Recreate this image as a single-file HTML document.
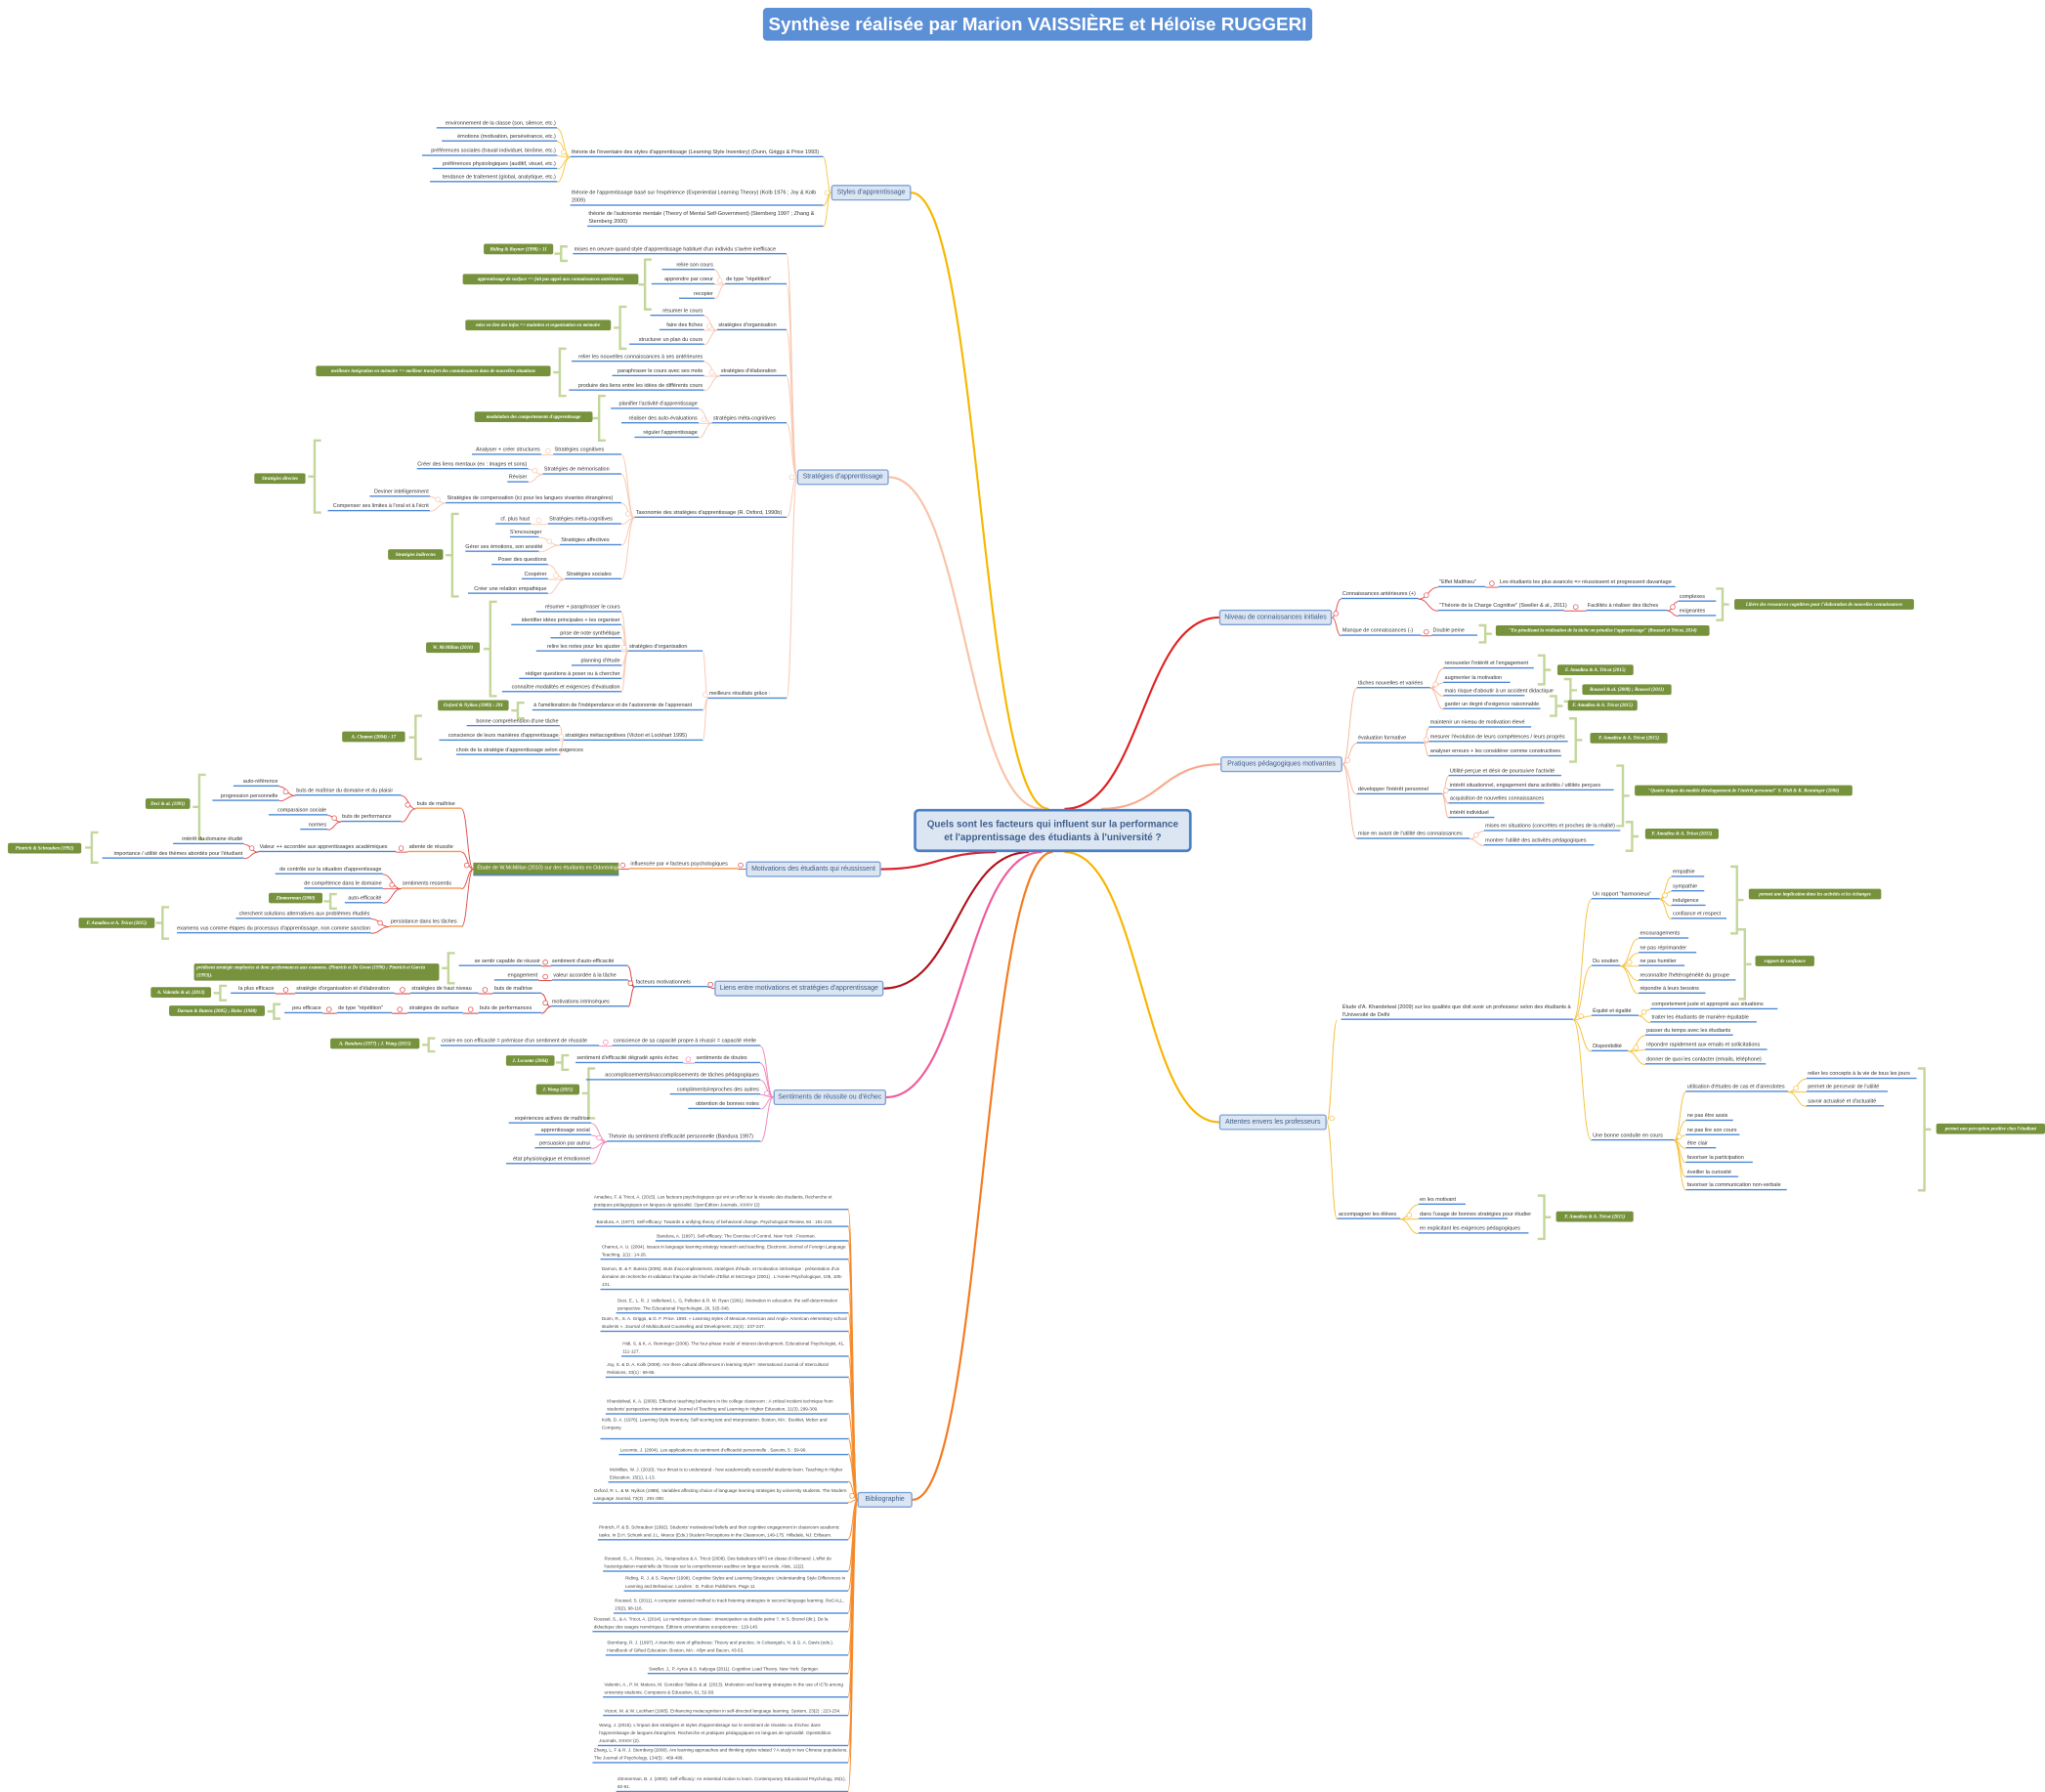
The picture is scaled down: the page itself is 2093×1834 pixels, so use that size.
<!DOCTYPE html>
<html><head><meta charset="utf-8">
<style>
html,body{margin:0;padding:0;background:#fff;width:2093px;height:1833px;overflow:hidden}
#w{position:absolute;left:0;top:0;width:1560px;height:1366px;transform:scale(1.3417);transform-origin:0 0;font-family:"Liberation Sans",sans-serif;color:#333}
#w div{position:absolute;box-sizing:border-box}
.l,.r{height:7px;line-height:6.5px;font-size:4.1px;white-space:nowrap;border-bottom:1.2px solid #4a86d4;color:#333}
.l{text-align:right;padding-right:1px}
.r{text-align:left;padding-left:1px}
.r2{font-size:4.1px;line-height:6px;border-bottom:1.2px solid #4a86d4;white-space:normal;padding-left:1px}
.t{background:#76923c;color:#fff;font:italic bold 3.7px "Liberation Serif",serif;border-radius:1.5px;padding:0 2px;height:8px;line-height:8px;white-space:nowrap;overflow:hidden;text-align:center}
.t2{background:#76923c;color:#fff;font:italic bold 3.7px "Liberation Serif",serif;border-radius:1.5px;padding:1px 2px;line-height:5.5px}
.m{background:#dce6f2;border:1px solid #7aa0d8;border-radius:2px;color:#3b5c8c;font-size:5.2px;text-align:center;line-height:10px;height:12px;white-space:nowrap}
.b{font-size:3.45px;line-height:6px;border-bottom:1.2px solid #4a86d4;color:#444;padding-left:1px;display:flex;flex-direction:column;justify-content:flex-end}
.g{background:#76923c;color:#fff;font-size:4px;line-height:8px;height:10px;padding:0 3px;white-space:nowrap;border-bottom:1.2px solid #4a86d4}
svg{position:absolute;left:0;top:0}
</style></head><body>
<div id="w">
<svg id="s" width="1560" height="1366" viewBox="0 0 1560 1366"></svg>

<div style="left:582px;top:6px;width:419px;height:25px;background:#5b8fd6;border-radius:3px;color:#fff;font-weight:bold;font-size:14px;line-height:25px;text-align:center">Synthèse réalisée par Marion VAISSIÈRE et Héloïse RUGGERI</div>

<div style="left:697px;top:617px;width:212px;height:33px;background:#dce6f2;border:2px solid #4a7fc8;border-radius:4px;color:#3f5f8f;font-weight:bold;font-size:7.4px;line-height:10px;text-align:center;padding-top:5px">Quels sont les facteurs qui influent sur la performance<br>et l'apprentissage des étudiants à l'université ?</div>

<div class="m" style="left:634px;top:141px;width:61px">Styles d'apprentissage</div>
<div class="m" style="left:608px;top:358px;width:70px">Stratégies d'apprentissage</div>
<div class="m" style="left:569px;top:657px;width:103px">Motivations des étudiants qui réussissent</div>
<div class="m" style="left:545px;top:748px;width:129px">Liens entre motivations et stratégies d'apprentissage</div>
<div class="m" style="left:590px;top:831px;width:86px">Sentiments de réussite ou d'échec</div>
<div class="m" style="left:654px;top:1138px;width:42px">Bibliographie</div>
<div class="m" style="left:930px;top:465px;width:86px">Niveau de connaissances initiales</div>
<div class="m" style="left:931px;top:577px;width:93px">Pratiques pédagogiques motivantes</div>
<div class="m" style="left:930px;top:850px;width:82px">Attentes envers les professeurs</div>

<!-- Styles -->
<div class="r" style="left:435px;top:113px;width:193px">théorie de l'inventaire des styles d'apprentissage (Learning Style Inventory) (Dunn, Griggs &amp; Price 1993)</div>
<div class="r2" style="left:435px;top:144px;width:193px;height:13px">théorie de l'apprentissage basé sur l'expérience (Experiential Learning Theory) (Kolb 1976 ; Joy &amp; Kolb 2009)</div>
<div class="r2" style="left:448px;top:160px;width:180px;height:13px">théorie de l'autonomie mentale (Theory of Mental Self-Government) (Sternberg 1997 ; Zhang &amp; Sternberg 2000)</div>
<div class="l" style="left:333px;top:91px;width:92px">environnement de la classe (son, silence, etc.)</div>
<div class="l" style="left:337px;top:101px;width:88px">émotions (motivation, persévérance, etc.)</div>
<div class="l" style="left:322px;top:112px;width:103px">préférences sociales (travail individuel, binôme, etc.)</div>
<div class="l" style="left:330px;top:122px;width:95px">préférences physiologiques (auditif, visuel, etc.)</div>
<div class="l" style="left:328px;top:132px;width:97px">tendance de traitement (global, analytique, etc.)</div>

<!-- Strategies -->
<div class="r" style="left:437px;top:187px;width:163px">mises en oeuvre quand style d'apprentissage habituel d'un individu s'avère inefficace</div>
<div class="t" style="left:369px;top:186px;width:53px">Riding &amp; Rayner (1998) : 11</div>
<div class="r" style="left:553px;top:210px;width:47px">de type "répétition"</div>
<div class="l" style="left:505px;top:199px;width:40px">relire son cours</div>
<div class="l" style="left:497px;top:210px;width:48px">apprendre par coeur</div>
<div class="l" style="left:518px;top:221px;width:27px">recopier</div>
<div class="t" style="left:353px;top:209px;width:134px">apprentissage de surface =&gt; fait pas appel aux connaissances antérieures</div>
<div class="r" style="left:547px;top:245px;width:53px">stratégies d'organisation</div>
<div class="l" style="left:496px;top:234px;width:41px">résumer le cours</div>
<div class="l" style="left:503px;top:245px;width:34px">faire des fiches</div>
<div class="l" style="left:480px;top:256px;width:57px">structurer un plan du cours</div>
<div class="t" style="left:355px;top:244px;width:111px">mise en lien des infos =&gt; maintien et organisation en mémoire</div>
<div class="r" style="left:549px;top:280px;width:51px">stratégies d'élaboration</div>
<div class="l" style="left:436px;top:269px;width:101px">relier les nouvelles connaissances à ses antérieures</div>
<div class="l" style="left:467px;top:280px;width:70px">paraphraser le cours avec ses mots</div>
<div class="l" style="left:434px;top:291px;width:103px">produire des liens entre les idées de différents cours</div>
<div class="t" style="left:241px;top:279px;width:179px">meilleure intégration en mémoire =&gt; meilleur transfert des connaissances dans de nouvelles situations</div>
<div class="r" style="left:543px;top:316px;width:57px">stratégies méta-cognitives</div>
<div class="l" style="left:466px;top:305px;width:67px">planifier l'activité d'apprentissage</div>
<div class="l" style="left:474px;top:316px;width:59px">réaliser des auto-évaluations</div>
<div class="l" style="left:484px;top:327px;width:49px">réguler l'apprentissage</div>
<div class="t" style="left:362px;top:314px;width:90px">modulation des comportements d'apprentissage</div>
<div class="r" style="left:484px;top:388px;width:116px">Taxonomie des stratégies d'apprentissage (R. Oxford, 1990b)</div>
<div class="r" style="left:422px;top:340px;width:52px">Stratégies cognitives</div>
<div class="l" style="left:360px;top:340px;width:53px">Analyser + créer structures</div>
<div class="r" style="left:414px;top:355px;width:60px">Stratégies de mémorisation</div>
<div class="l" style="left:318px;top:351px;width:85px">Créer des liens mentaux (ex : images et sons)</div>
<div class="l" style="left:387px;top:361px;width:16px">Réviser</div>
<div class="r" style="left:340px;top:377px;width:134px">Stratégies de compensation (ici pour les langues vivantes étrangères)</div>
<div class="l" style="left:282px;top:372px;width:46px">Deviner intelligemment</div>
<div class="l" style="left:250px;top:383px;width:78px">Compenser ses limites à l'oral et à l'écrit</div>
<div class="r" style="left:418px;top:393px;width:56px">Stratégies méta-cognitives</div>
<div class="l" style="left:378px;top:393px;width:27px">cf. plus haut</div>
<div class="r" style="left:427px;top:409px;width:47px">Stratégies affectives</div>
<div class="l" style="left:389px;top:403px;width:22px">S'encourager</div>
<div class="l" style="left:355px;top:414px;width:56px">Gérer ses émotions, son anxiété</div>
<div class="r" style="left:431px;top:435px;width:43px">Stratégies sociales</div>
<div class="l" style="left:375px;top:424px;width:43px">Poser des questions</div>
<div class="l" style="left:398px;top:435px;width:20px">Coopérer</div>
<div class="l" style="left:357px;top:446px;width:61px">Créer une relation empathique</div>
<div class="t" style="left:194px;top:361px;width:39px">Stratégies directes</div>
<div class="t" style="left:296px;top:419px;width:42px">Stratégies indirectes</div>
<div class="r" style="left:540px;top:526px;width:60px">meilleurs résultats grâce :</div>
<div class="r" style="left:479px;top:490px;width:57px">stratégies d'organisation</div>
<div class="l" style="left:409px;top:460px;width:65px">résumer + paraphraser le cours</div>
<div class="l" style="left:390px;top:470px;width:84px">identifier idées principales + les organiser</div>
<div class="l" style="left:420px;top:480px;width:54px">prise de note synthétique</div>
<div class="l" style="left:409px;top:490px;width:65px">relire les notes pour les ajuster</div>
<div class="l" style="left:436px;top:501px;width:38px">planning d'étude</div>
<div class="l" style="left:396px;top:511px;width:78px">rédiger questions à poser ou à chercher</div>
<div class="l" style="left:383px;top:521px;width:91px">connaître modalités et exigences d'évaluation</div>
<div class="t" style="left:325px;top:490px;width:41px">W. McMillan (2010)</div>
<div class="r" style="left:406px;top:535px;width:130px">à l'amélioration de l'indépendance et de l'autonomie de l'apprenant</div>
<div class="t" style="left:334px;top:534px;width:54px">Oxford &amp; Nyikos (1989) : 291</div>
<div class="r" style="left:430px;top:558px;width:106px">stratégies métacognitives (Victori et Lockhart 1995)</div>
<div class="l" style="left:356px;top:547px;width:71px">bonne compréhension d'une tâche</div>
<div class="l" style="left:335px;top:558px;width:92px">conscience de leurs manières d'apprentissage</div>
<div class="l" style="left:348px;top:569px;width:79px">choix de la stratégie d'apprentissage selon exigences</div>
<div class="t" style="left:261px;top:558px;width:48px">A. Chamot (2004) : 17</div>

<!-- Motivations -->
<div class="r" style="left:480px;top:656px;width:83px;border-bottom-color:#f79646">influencée par ≠ facteurs psychologiques</div>
<div class="g" style="left:361px;top:658px;width:111px">Étude de W.McMillan (2010) sur des étudiants en Odontologie</div>
<div class="r" style="left:317px;top:610px;width:35px;border-bottom-color:#f79646">buts de maîtrise</div>
<div class="r" style="left:225px;top:600px;width:81px">buts de maîtrise du domaine et du plaisir</div>
<div class="l" style="left:178px;top:593px;width:35px">auto-référence</div>
<div class="l" style="left:162px;top:604px;width:51px">progression personnelle</div>
<div class="r" style="left:260px;top:620px;width:46px">buts de performance</div>
<div class="l" style="left:205px;top:615px;width:45px">comparaison sociale</div>
<div class="l" style="left:229px;top:626px;width:21px">normes</div>
<div class="t" style="left:111px;top:609px;width:34px">Deci &amp; al. (1991)</div>
<div class="r" style="left:311px;top:643px;width:41px;border-bottom-color:#f79646">attente de réussite</div>
<div class="r" style="left:197px;top:643px;width:105px">Valeur ++ accordée aux apprentissages académiques</div>
<div class="l" style="left:132px;top:637px;width:54px">intérêt du domaine étudié</div>
<div class="l" style="left:78px;top:648px;width:108px">importance / utilité des thèmes abordés pour l'étudiant</div>
<div class="t" style="left:6px;top:643px;width:56px">Pintrich &amp; Schrauben (1992)</div>
<div class="r" style="left:306px;top:671px;width:46px;border-bottom-color:#f79646">sentiments ressentis</div>
<div class="l" style="left:210px;top:660px;width:82px">de contrôle sur la situation d'apprentissage</div>
<div class="l" style="left:232px;top:671px;width:60px">de compétence dans le domaine</div>
<div class="l" style="left:263px;top:682px;width:29px">auto-efficacité</div>
<div class="t" style="left:205px;top:681px;width:41px">Zimmerman (2000)</div>
<div class="r" style="left:297px;top:700px;width:55px;border-bottom-color:#f79646">persistance dans les tâches</div>
<div class="l" style="left:180px;top:694px;width:103px">cherchent solutions alternatives aux problèmes étudiés</div>
<div class="l" style="left:135px;top:705px;width:148px">examens vus comme étapes du processus d'apprentissage, non comme  sanction</div>
<div class="t" style="left:60px;top:700px;width:58px">F. Amadieu et A. Tricot (2015)</div>

<!-- Liens -->
<div class="r" style="left:484px;top:746px;width:56px">facteurs motivationnels</div>
<div class="r" style="left:420px;top:730px;width:59px">sentiment d'auto-efficacité</div>
<div class="l" style="left:350px;top:730px;width:63px">se sentir capable de réussir</div>
<div class="r" style="left:421px;top:741px;width:58px">valeur accordée à la tâche</div>
<div class="l" style="left:377px;top:741px;width:34px">engagement</div>
<div class="t2" style="left:148px;top:735px;width:187px;height:13px">prédisent stratégie employées et donc performances aux examens. (Pintrich et De Groot (1990) ; Pintrich et Garcia (1993)).</div>
<div class="r" style="left:420px;top:761px;width:59px">motivations intrinsèques</div>
<div class="r" style="left:376px;top:751px;width:37px">buts de maîtrise</div>
<div class="r" style="left:313px;top:751px;width:52px">stratégies de haut niveau</div>
<div class="r" style="left:225px;top:751px;width:76px">stratégie d'organisation et d'élaboration</div>
<div class="l" style="left:176px;top:751px;width:34px">la plus efficace</div>
<div class="t" style="left:115px;top:753px;width:46px">A. Valentin &amp; al. (2013)</div>
<div class="r" style="left:365px;top:766px;width:48px">buts de performances</div>
<div class="r" style="left:311px;top:766px;width:42px">stratégies de surface</div>
<div class="r" style="left:257px;top:766px;width:42px">de type "répétition"</div>
<div class="l" style="left:217px;top:766px;width:29px">peu efficace</div>
<div class="t" style="left:129px;top:767px;width:73px">Darnon &amp; Butera (2005) ; Holec (1988)</div>

<!-- Sentiments -->
<div class="r" style="left:467px;top:791px;width:113px">conscience de sa capacité propre à réussir = capacité réelle</div>
<div class="r" style="left:336px;top:791px;width:121px">croire en son efficacité = prémisse d'un sentiment de réussite</div>
<div class="t" style="left:252px;top:792px;width:68px">A. Bandura (1977) ; J. Wang (2015)</div>
<div class="r" style="left:530px;top:804px;width:50px">sentiments de doutes</div>
<div class="r" style="left:439px;top:804px;width:82px">sentiment d'efficacité dégradé après échec</div>
<div class="t" style="left:386px;top:805px;width:37px">J. Lecomte (2004)</div>
<div class="l" style="left:447px;top:817px;width:133px">accomplissements/inaccomplissements de tâches pédagogiques</div>
<div class="l" style="left:511px;top:828px;width:69px">compliments/reproches des autres</div>
<div class="l" style="left:525px;top:839px;width:55px">obtention de bonnes notes</div>
<div class="t" style="left:409px;top:827px;width:33px">J. Wang (2015)</div>
<div class="r" style="left:463px;top:864px;width:117px">Théorie du sentiment d'efficacité personnelle (Bandura 1997)</div>
<div class="l" style="left:388px;top:850px;width:63px">expériences actives de maîtrise</div>
<div class="l" style="left:408px;top:859px;width:43px">apprentissage social</div>
<div class="l" style="left:408px;top:869px;width:43px">persuasion par autrui</div>
<div class="l" style="left:386px;top:881px;width:65px">état physiologique et émotionnel</div>

<!-- Bibliographie -->
<div class="b" style="left:452px;top:901px;width:195px;height:22px">Amadieu, F. &amp; Tricot, A. (2015). Les facteurs psychologiques qui ont un effet sur la réussite des étudiants,  Recherche et pratiques pédagogiques en langues de spécialité. OpenEdition Journals, XXXIV (2)</div>
<div class="b" style="left:454px;top:922px;width:193px;height:14px">Bandura, A. (1977). Self-efficacy: Towards a unifying theory of behavioral change. Psychological Review, 84 : 191-215.</div>
<div class="b" style="left:500px;top:939px;width:147px;height:8px">Bandura, A. (1997). Self-efficacy: The Exercise of Control. New York : Freeman.</div>
<div class="b" style="left:458px;top:947px;width:189px;height:14px">Chamot, A. U. (2004). Issues in language learning strategy research and teaching. Electronic Journal of Foreign Language Teaching, 1(1) : 14-26.</div>
<div class="b" style="left:458px;top:964px;width:189px;height:20px">Darnon, B. &amp; F. Butera (2005). Buts d'accomplissement, stratégies d'étude, et motivation intrinsèque : présentation d'un domaine de recherche et validation française de l'échelle d'Elliot et McGregor (2001) . L'Année Psychologique, 105, 105-131.</div>
<div class="b" style="left:470px;top:988px;width:177px;height:14px">Deci, E., L. R. J. Vallerland, L. G, Pelletier &amp; R. M. Ryan (1991). Motivation in education: the self-determination perspective. The Educational Psychologist, 26, 325-346.</div>
<div class="b" style="left:458px;top:1002px;width:189px;height:14px">Dunn, R., S. A. Griggs, &amp; G. F. Price. 1993. « Learning styles of Mexican American and Anglo- American elementary school students ». Journal of Multicultural Counseling and Development, 21(4) : 237-247.</div>
<div class="b" style="left:474px;top:1021px;width:173px;height:14px">Hidi, S. &amp; K. A. Renninger (2006). The four-phase model of interest development. Educational Psychologist, 41, 111-127.</div>
<div class="b" style="left:462px;top:1037px;width:185px;height:14px">Joy, S. &amp; D. A. Kolb (2009). Are there cultural differences in learning style?. International Journal of Intercultural Relations, 33(1) : 69-85.</div>
<div class="b" style="left:462px;top:1059px;width:185px;height:20px">Khandelwal, K. A. (2009). Effective teaching behaviors in the college classroom : A critical incident technique from students' perspective. International Journal of Teaching and Learning in Higher Education, 21(3), 299-309.</div>
<div class="b" style="left:458px;top:1080px;width:189px;height:18px;justify-content:flex-start">Kolb, D. A. (1976). Learning Style Inventory, Self scoring test and interpretation. Boston, MA : Booklet, Mcber and Company.</div>
<div class="b" style="left:472px;top:1102px;width:175px;height:8px">Lecomte, J. (2004). Les applications du sentiment d'efficacité personnelle . Savoirs, 5 : 59-90.</div>
<div class="b" style="left:464px;top:1117px;width:183px;height:14px">McMillan, W. J. (2010). Your thrust is to understand - how academically successful students learn. Teaching in Higher Education, 15(1), 1-13.</div>
<div class="b" style="left:452px;top:1133px;width:195px;height:14px">Oxford, R. L. &amp; M. Nyikos (1989). Variables affecting choice of language learning strategies by university students. The Modern Language Journal, 73(3) : 291-300.</div>
<div class="b" style="left:456px;top:1155px;width:191px;height:20px">Pintrich, P. &amp; B. Schrauben (1992). Students' motivational beliefs and their cognitive engagement in classroom academic tasks. In D.H. Schunk and J.L. Meece (Eds.) Student Perceptions in the Classroom, 149-175. Hillsdale, NJ: Erlbaum.</div>
<div class="b" style="left:460px;top:1179px;width:187px;height:20px">Roussel, S., A. Rieussec, J-L. Nespoulous &amp; A. Tricot (2008). Des baladeurs MP3 en classe d'Allemand. L'effet de l'autorégulation matérielle de l'écoute sur la compréhension auditive en langue seconde. Alsic, 11(2).</div>
<div class="b" style="left:476px;top:1200px;width:171px;height:14px">Riding, R. J. &amp; S. Rayner (1998). Cognitive Styles and Learning Strategies: Understanding Style Differences in Learning and Behaviour. Londres : D. Fulton Publishers. Page 11</div>
<div class="b" style="left:468px;top:1217px;width:179px;height:14px">Roussel, S. (2011). A computer assisted method to track listening strategies in second language learning. ReCALL, 23(2), 98-116.</div>
<div class="b" style="left:452px;top:1231px;width:195px;height:14px">Roussel, S., &amp; A. Tricot, A. (2014). Le numérique en classe : émancipation ou double peine ?. In S. Brunel (dir.). De la didactique des usages numériques. Éditions universitaires européennes : 119-140.</div>
<div class="b" style="left:462px;top:1249px;width:185px;height:14px">Sternberg, R. J. (1997). A triarchic view of giftedness: Theory and practice. In Coleangelo, N. &amp; G. A. Davis (eds.). Handbook of Gifted Education. Boston, MA : Allyn and Bacon, 43-53.</div>
<div class="b" style="left:494px;top:1269px;width:153px;height:8px">Sweller, J., P. Ayres &amp; S. Kalyuga (2011). Cognitive Load Theory. New York: Springer.</div>
<div class="b" style="left:460px;top:1281px;width:187px;height:14px">Valentin, A., P. M. Mateos, M. González-Tablas &amp; al. (2013). Motivation and learning strategies in the use of ICTs among university students. Computers &amp; Education, 61, 52-58.</div>
<div class="b" style="left:460px;top:1295px;width:187px;height:14px">Victori, M. &amp; W. Lockhart (1995). Enhancing metacognition in self-directed language learning. System, 23(2) : 223-234.</div>
<div class="b" style="left:456px;top:1312px;width:191px;height:20px">Wang, J. (2015). L'impact des stratégies et styles d'apprentissage sur le sentiment de réussite ou d'échec dans l'apprentissage de langues étrangères. Recherche et pratiques pédagogiques en langues de spécialité. OpenEdition Journals, XXXIV (2).</div>
<div class="b" style="left:452px;top:1331px;width:195px;height:14px">Zhang, L. F &amp; R. J. Sternberg (2000). Are learning approaches and thinking styles related ? A study in two Chinese populations. The Journal of Psychology, 134(5) : 469-489.</div>
<div class="b" style="left:470px;top:1353px;width:177px;height:14px">Zimmerman, B. J. (2000). Self-efficacy: An essential motive to learn. Contemporary Educational Psychology, 25(1), 82-91.</div>

<!-- Niveau -->
<div class="r" style="left:1023px;top:450px;width:59px">Connaissances antérieures (+)</div>
<div class="r" style="left:1097px;top:441px;width:36px">"Effet Matthieu"</div>
<div class="r" style="left:1143px;top:441px;width:135px">Les étudiants les plus avancés =&gt; réussissent et progressent davantage</div>
<div class="r" style="left:1097px;top:459px;width:96px">"Théorie de la Charge Cognitive" (Sweller &amp; al., 2011)</div>
<div class="r" style="left:1210px;top:459px;width:62px">Facilités à réaliser des tâches</div>
<div class="r" style="left:1280px;top:452px;width:29px">complexes</div>
<div class="r" style="left:1280px;top:463px;width:29px">exigeantes</div>
<div class="t" style="left:1323px;top:457px;width:137px">Libère des ressources cognitives pour l'élaboration de nouvelles connaissances</div>
<div class="r" style="left:1023px;top:478px;width:61px">Manque de connaissances (-)</div>
<div class="r" style="left:1092px;top:478px;width:35px">Double peine</div>
<div class="t" style="left:1141px;top:477px;width:163px">"En pénalisant la réalisation de la tâche on pénalise l'apprentissage" (Roussel et Tricot, 2014)</div>

<!-- Pratiques -->
<div class="r" style="left:1035px;top:518px;width:56px">tâches nouvelles et variées</div>
<div class="r" style="left:1101px;top:503px;width:69px">renouveler l'intérêt et l'engagement</div>
<div class="r" style="left:1101px;top:514px;width:51px">augmenter la motivation</div>
<div class="r" style="left:1101px;top:524px;width:62px">mais risque d'aboutir à un accident didactique</div>
<div class="r" style="left:1101px;top:534px;width:74px">garder un degré d'exigence raisonnable</div>
<div class="t" style="left:1188px;top:507px;width:58px">F. Amadieu &amp; A. Tricot (2015)</div>
<div class="t" style="left:1207px;top:522px;width:68px">Roussel &amp; al. (2008) ; Roussel (2011)</div>
<div class="t" style="left:1196px;top:534px;width:53px">F. Amadieu &amp; A. Tricot (2015)</div>
<div class="r" style="left:1035px;top:560px;width:51px">évaluation formative</div>
<div class="r" style="left:1090px;top:548px;width:78px">maintenir un niveau de motivation élevé</div>
<div class="r" style="left:1090px;top:559px;width:106px">mesurer l'évolution de leurs compétences / leurs progrès</div>
<div class="r" style="left:1090px;top:570px;width:101px">analyser erreurs + les considérer comme constructives</div>
<div class="t" style="left:1213px;top:559px;width:59px">F. Amadieu &amp; A. Tricot (2015)</div>
<div class="r" style="left:1035px;top:599px;width:65px">développer l'intérêt personnel</div>
<div class="r" style="left:1105px;top:585px;width:86px">Utilité perçue et désir de poursuivre l'activité</div>
<div class="r" style="left:1105px;top:596px;width:126px">intérêt situationnel, engagement dans activités / utilités perçues</div>
<div class="r" style="left:1105px;top:606px;width:73px">acquisition de nouvelles connaissances</div>
<div class="r" style="left:1105px;top:617px;width:35px">intérêt individuel</div>
<div class="t" style="left:1247px;top:599px;width:166px">"Quatre étapes du modèle développement de l'intérêt personnel" S. Hidi &amp; K. Renninger (2006)</div>
<div class="r" style="left:1035px;top:633px;width:86px">mise en avant de l'utilité des connaissances</div>
<div class="r" style="left:1132px;top:627px;width:104px">mises en situations (concrètes et proches de la réalité)</div>
<div class="r" style="left:1132px;top:638px;width:84px">montrer l'utilité des activités pédagogiques</div>
<div class="t" style="left:1255px;top:632px;width:56px">F. Amadieu &amp; A. Tricot (2015)</div>

<!-- Attentes -->
<div class="r2" style="left:1023px;top:765px;width:177px;height:13px">Étude d'A. Khandelwal (2009) sur les qualités que doit avoir un professeur selon des étudiants à l'Université  de Delhi</div>
<div class="r" style="left:1214px;top:679px;width:52px">Un rapport "harmonieux"</div>
<div class="r" style="left:1275px;top:662px;width:25px">empathie</div>
<div class="r" style="left:1275px;top:673px;width:25px">sympathie</div>
<div class="r" style="left:1275px;top:684px;width:26px">indulgence</div>
<div class="r" style="left:1275px;top:694px;width:42px">confiance et respect</div>
<div class="t" style="left:1334px;top:678px;width:101px">permet une implication dans les activités et les échanges</div>
<div class="r" style="left:1214px;top:730px;width:22px">Du soutien</div>
<div class="r" style="left:1250px;top:709px;width:38px">encouragements</div>
<div class="r" style="left:1250px;top:720px;width:44px">ne pas réprimander</div>
<div class="r" style="left:1250px;top:730px;width:35px">ne pas humilier</div>
<div class="r" style="left:1250px;top:741px;width:74px">reconnaître l'hétérogénéité du groupe</div>
<div class="r" style="left:1250px;top:751px;width:51px">répondre à leurs besoins</div>
<div class="t" style="left:1339px;top:729px;width:45px">rapport de confiance</div>
<div class="r" style="left:1214px;top:768px;width:36px">Équité et égalité</div>
<div class="r" style="left:1259px;top:763px;width:97px">comportement juste et approprié aux situations</div>
<div class="r" style="left:1259px;top:773px;width:81px">traiter les étudiants de manière équitable</div>
<div class="r" style="left:1214px;top:795px;width:28px">Disponibilité</div>
<div class="r" style="left:1255px;top:783px;width:67px">passer du temps avec les étudiants</div>
<div class="r" style="left:1255px;top:794px;width:93px">répondre rapidement aux emails et sollicitations</div>
<div class="r" style="left:1255px;top:805px;width:92px">donner de quoi les contacter (emails, téléphone)</div>
<div class="r" style="left:1214px;top:863px;width:63px">Une bonne conduite en cours</div>
<div class="r" style="left:1286px;top:826px;width:78px">utilisation d'études de cas et d'anecdotes</div>
<div class="r" style="left:1378px;top:816px;width:84px">relier les concepts à la vie de tous les jours</div>
<div class="r" style="left:1378px;top:826px;width:62px">permet de percevoir de l'utilité</div>
<div class="r" style="left:1378px;top:837px;width:59px">savoir actualisé et d'actualité</div>
<div class="r" style="left:1286px;top:848px;width:36px">ne pas être assis</div>
<div class="r" style="left:1286px;top:859px;width:41px">ne pas lire son cours</div>
<div class="r" style="left:1286px;top:869px;width:23px">être clair</div>
<div class="r" style="left:1286px;top:880px;width:51px">favoriser la participation</div>
<div class="r" style="left:1286px;top:891px;width:40px">éveiller la curiosité</div>
<div class="r" style="left:1286px;top:901px;width:77px">favoriser la communication non-verbale</div>
<div class="t" style="left:1477px;top:857px;width:83px">permet une perception positive chez l'étudiant</div>
<div class="r" style="left:1020px;top:923px;width:48px">accompagner les élèves</div>
<div class="r" style="left:1082px;top:912px;width:36px">en les motivant</div>
<div class="r" style="left:1082px;top:923px;width:68px">dans l'usage de bonnes stratégies pour étudier</div>
<div class="r" style="left:1082px;top:934px;width:84px">en explicitant les exigences pédagogiques</div>
<div class="t" style="left:1187px;top:924px;width:59px">F. Amadieu &amp; A. Tricot (2015)</div>
</div>

<script>
var s=document.getElementById('s'),NS='http://www.w3.org/2000/svg';
function P(d,c,w){var p=document.createElementNS(NS,'path');p.setAttribute('d',d);p.setAttribute('stroke',c);p.setAttribute('stroke-width',w||0.7);p.setAttribute('fill','none');s.appendChild(p);}
function C(a,b,x,y,c,w){var m=(a+x)/2;P('M'+a+' '+b+' C'+m+' '+b+','+m+' '+y+','+x+' '+y,c,w);}
function F(px,py,k,c,w){k.forEach(function(q){C(px,py,q[0],q[1],c,w);});}
function O(x,y,c){var e=document.createElementNS(NS,'circle');e.setAttribute('cx',x);e.setAttribute('cy',y);e.setAttribute('r',1.8);e.setAttribute('fill','#fff');e.setAttribute('stroke',c);e.setAttribute('stroke-width',0.5);s.appendChild(e);}
var G='#c3d69b';
function BL(x,a,b){P('M'+(x+5)+' '+a+' H'+x+' V'+b+' H'+(x+5)+' M'+x+' '+((a+b)/2)+' H'+(x-5),G,1.8);}
function BR(x,a,b){P('M'+(x-5)+' '+a+' H'+x+' V'+b+' H'+(x-5)+' M'+x+' '+((a+b)/2)+' H'+(x+5),G,1.8);}
C(800,617,695,147,'#f5b800',1.6);C(795,617,678,364,'#f8c3a8',1.6);
C(760,650,672,663,'#d9232f',1.6);C(785,650,674,754,'#b0101a',1.6);
C(795,650,676,837,'#ef5b9c',1.6);C(803,650,696,1144,'#f47a20',1.6);
C(812,617,930,471,'#e02020',1.6);C(840,617,931,583,'#f8a98b',1.6);
C(812,650,930,856,'#f7b500',1.6);
var St='#f7c948',Sa='#f8c8b0',Mo='#e24a4a',Li='#d63a3a',Se='#f283b6',Bi='#f58a2a',Ni='#e64a4a',Pr='#f8b59a',At='#f6c13c';
F(634,147,[[628,120],[628,157],[628,173]],St);
F(435,120,[[425,98],[425,108],[425,119],[425,129],[425,139]],St);
F(608,364,[[600,194],[600,217],[600,252],[600,287],[600,323],[600,395],[600,533]],Sa);
F(553,217,[[545,206],[545,217],[545,228]],Sa);F(547,252,[[537,241],[537,252],[537,263]],Sa);
F(549,287,[[537,276],[537,287],[537,298]],Sa);F(543,323,[[533,312],[533,323],[533,334]],Sa);
F(484,395,[[474,347],[474,362],[474,384],[474,400],[474,416],[474,442]],Sa);
F(422,347,[[413,347]],Sa);F(414,362,[[403,358],[403,368]],Sa);F(340,384,[[328,379],[328,390]],Sa);
F(418,400,[[405,400]],Sa);F(427,416,[[411,410],[411,421]],Sa);F(431,442,[[418,431],[418,442],[418,453]],Sa);
F(540,533,[[536,497],[536,542],[536,565]],Sa);
F(479,497,[[474,467],[474,477],[474,487],[474,497],[474,508],[474,518],[474,528]],Sa);
F(430,565,[[427,554],[427,565],[427,576]],Sa);
BL(428,188,199);BL(492,198,236);BL(473,234,266);BL(427,266,302);BL(457,302,336);BL(240,336,391);BL(345,392,455);BL(374,459,531);BL(395,536,548);BL(317,546,579);
F(569,663,[[563,663]],Mo);F(480,663,[[472,663]],Mo);
F(361,663,[[352,617],[352,650],[352,678],[352,707]],Mo);
F(317,617,[[306,607],[306,627]],Mo);F(225,607,[[213,600],[213,611]],Mo);F(260,627,[[250,622],[250,633]],Mo);
F(311,650,[[302,650]],Mo);F(197,650,[[186,644],[186,655]],Mo);F(306,678,[[292,667],[292,678],[292,689]],Mo);F(297,707,[[283,701],[283,712]],Mo);
BL(152,591,640);BL(70,635,658);BL(252,682,693);BL(124,692,716);
F(545,754,[[540,753]],Li);F(484,753,[[479,737],[479,748],[479,768]],Li);
F(420,737,[[413,737]],Li);F(421,748,[[411,748]],Li);F(420,768,[[413,758],[413,773]],Li);
C(376,758,365,758,Li);C(313,758,301,758,Li);C(225,758,210,758,Li);C(365,773,353,773,Li);C(311,773,299,773,Li);C(257,773,246,773,Li);
BL(342,727,750);BL(168,752,763);BL(209,766,777);
F(590,837,[[580,798],[580,811],[580,824],[580,835],[580,846],[580,871]],Se);
C(467,798,457,798,Se);C(530,811,521,811,Se);F(463,871,[[451,857],[451,866],[451,876],[451,888]],Se);
BL(327,792,802);BL(429,805,816);BL(449,815,853);
F(654,1144,[922,935,946,960,983,1001,1015,1034,1050,1078,1097,1109,1130,1146,1174,1198,1213,1230,1244,1262,1276,1294,1308,1331,1344,1366].map(function(y){return[647,y];}),Bi);
F(1016,471,[[1023,457],[1023,485]],Ni);F(1082,457,[[1097,448],[1097,466]],Ni);
C(1133,448,1143,448,Ni);C(1193,466,1210,466,Ni);F(1272,466,[[1280,459],[1280,470]],Ni);C(1084,485,1092,485,Ni);
BR(1314,449,473);BR(1133,477,490);
F(1024,583,[[1035,525],[1035,567],[1035,606],[1035,640]],Pr);
F(1091,525,[[1101,510],[1101,521],[1101,531],[1101,541]],Pr);F(1086,567,[[1090,555],[1090,566],[1090,577]],Pr);
F(1100,606,[[1105,592],[1105,603],[1105,613],[1105,624]],Pr);F(1121,640,[[1132,634],[1132,645]],Pr);
BR(1178,500,522);BR(1198,518,535);BR(1187,531,546);BR(1202,548,581);BR(1238,584,630);BR(1245,627,649);
F(1012,856,[[1020,778],[1020,930]],At);
F(1200,778,[[1214,686],[1214,737],[1214,775],[1214,802],[1214,870]],At);
F(1266,686,[[1275,669],[1275,680],[1275,691],[1275,701]],At);
F(1236,737,[[1250,716],[1250,727],[1250,737],[1250,748],[1250,758]],At);
F(1250,775,[[1259,770],[1259,780]],At);F(1242,802,[[1255,790],[1255,801],[1255,812]],At);
F(1277,870,[[1286,833],[1286,855],[1286,866],[1286,876],[1286,887],[1286,898],[1286,908]],At);
F(1364,833,[[1378,823],[1378,833],[1378,844]],At);F(1068,930,[[1082,919],[1082,930],[1082,941]],At);
BR(1325,661,712);BR(1331,709,762);BR(1468,815,908);BR(1178,912,945);
[[430,116,St],[631,147,St],[604,364,Sa],[549,214,Sa],[541,249,Sa],[543,284,Sa],[537,320,Sa],[479,392,Sa],[538,530,Sa],[476,494,Sa],[428,562,Sa],[418,344,Sa],[408,359,Sa],[334,381,Sa],[411,397,Sa],[419,413,Sa],[424,439,Sa],
[475,660,Mo],[565,660,Mo],[356,660,Mo],[311,614,Mo],[218,604,Mo],[255,624,Mo],[306,647,Mo],[192,647,Mo],[299,675,Mo],[290,704,Mo],
[542,751,Li],[481,750,Li],[416,734,Li],[416,745,Li],[416,765,Li],[370,755,Li],[307,755,Li],[218,755,Li],[359,770,Li],[305,770,Li],[251,770,Li],
[585,834,Se],[462,795,Se],[525,808,Se],[457,868,Se],[650,1141,Bi],
[1019,468,Ni],[1088,454,Ni],[1138,445,Ni],[1202,463,Ni],[1276,463,Ni],[1088,482,Ni],
[1028,580,Pr],[1095,522,Pr],[1088,564,Pr],[1103,603,Pr],[1126,637,Pr],
[1016,853,At],[1206,775,At],[1270,683,At],[1243,734,At],[1254,772,At],[1248,799,At],[1281,867,At],[1370,830,At],[1075,927,At]
].forEach(function(q){O(q[0],q[1],q[2]);});
</script>
</body></html>
